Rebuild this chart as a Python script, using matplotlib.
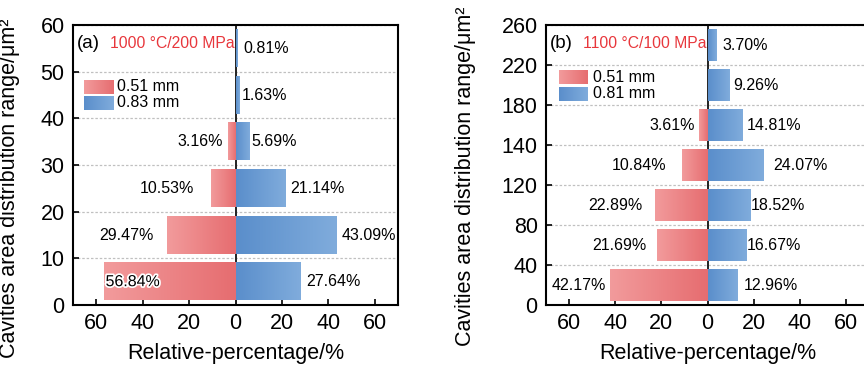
import numpy as np
import matplotlib
matplotlib.use('Agg')
import matplotlib.pyplot as plt
import matplotlib.patheffects as pe
from matplotlib.colors import LinearSegmentedColormap

plt.rcParams['font.family'] = ['Liberation Sans', 'DejaVu Sans']

# relative percentage per cavity-area bin, (a) 1000 C / 200 MPa
a_edges = [0, 10, 20, 30, 40, 50, 60]
a_thin = [56.84, 29.47, 10.53, 3.16, 0, 0]
a_thick = [27.64, 43.09, 21.14, 5.69, 1.63, 0.81]
a_names = ['0.51 mm', '0.83 mm']

# (b) 1100 C / 100 MPa
b_edges = [0, 40, 80, 120, 140, 180, 220, 260]
b_thin = [42.17, 21.69, 22.89, 10.84, 3.61, 0, 0]
b_thick = [12.96, 16.67, 18.52, 24.07, 14.81, 9.26, 3.70]
b_names = ['0.51 mm', '0.81 mm']

xticks = [-60, -40, -20, 0, 20, 40, 60]

# pixel gaps between bar end and its label
a_gap_thin = [0, 13, 17, 5]
a_gap_thick = [7, 6, 6, 3, 2, 6]
b_gap_thin = [4, 11, 12, 16, 4]
b_gap_thick = [6, 1, 1, 10, 5, 4, 6]

RED_ZERO, RED_FAR = '#e66d70', '#f29b9c'
BLUE_ZERO, BLUE_FAR = '#5a8ecb', '#80acdc'


def shade(ax, bars, c_zero, c_far):
    cmap = LinearSegmentedColormap.from_list('g', [c_zero, c_far])
    grad = np.linspace(0, 1, 256).reshape(1, -1)
    for b in bars:
        w = b.get_width()
        if w == 0:
            continue
        x0, y0, h = b.get_x(), b.get_y(), b.get_height()
        ax.imshow(grad, extent=[x0, x0 + w, y0, y0 + h], cmap=cmap,
                  aspect='auto', interpolation='bilinear', zorder=2)


def legend_patch(ax, box, c_left, c_right):
    ins = ax.inset_axes(box)
    cmap = LinearSegmentedColormap.from_list('g', [c_left, c_right])
    ins.imshow(np.linspace(0, 1, 256).reshape(1, -1), cmap=cmap,
               aspect='auto', interpolation='bilinear')
    ins.axis('off')


def draw_panel(ax, edges, thin, thick, tag, cond, names,
               gap_thin, gap_thick, leg_x, leg_y):
    n = len(thick)
    pos = np.arange(n) + 0.5

    neg = [-v for v in thin]
    bars_l = ax.barh(pos, neg, height=0.8, color='none', zorder=2)
    bars_r = ax.barh(pos, thick, height=0.8, color='none', zorder=2)
    shade(ax, bars_l, RED_ZERO, RED_FAR)
    shade(ax, bars_r, BLUE_ZERO, BLUE_FAR)

    ax.axvline(0, color='#222222', lw=1.4, zorder=1.5)
    ax.set_yticks(np.arange(n + 1))
    ax.set_yticklabels([str(e) for e in edges])
    ax.grid(axis='y', linestyle=(0, (2, 1.5)), color='#c0c0c0', lw=0.9, zorder=0)
    ax.set_axisbelow(True)

    ax.set_xlim(-70, 70)
    ax.set_ylim(0, n)
    ax.set_xticks(xticks)
    ax.set_xticklabels([str(abs(t)) for t in xticks])
    ax.tick_params(direction='in', length=4, width=1.2, labelsize=15.5, pad=6)
    for s in ax.spines.values():
        s.set_linewidth(1.5)

    # value labels
    for i, v in enumerate(thin):
        if v == 0:
            continue
        if i == 0 and v > 50:
            t = ax.annotate(f'{v:.2f}%', (-v, pos[i]), xytext=(2, 0),
                            textcoords='offset pixels', ha='left', va='center',
                            fontsize=11.5, zorder=5)
            t.set_path_effects([pe.withStroke(linewidth=2.5, foreground='white')])
        else:
            ax.annotate(f'{v:.2f}%', (-v, pos[i]), xytext=(-gap_thin[i], 0),
                        textcoords='offset pixels', ha='right', va='center',
                        fontsize=11.5, zorder=5)
    for i, v in enumerate(thick):
        ax.annotate(f'{v:.2f}%', (v, pos[i]), xytext=(gap_thick[i], 0),
                    textcoords='offset pixels', ha='left', va='center',
                    fontsize=11.5, zorder=5)

    ax.text(0.012, 0.935, tag, transform=ax.transAxes, fontsize=13.5,
            va='center', ha='left')
    ax.text(0.114, 0.935, cond, transform=ax.transAxes, fontsize=11.3,
            color='#e8373c', va='center', ha='left')

    # gradient legend
    legend_patch(ax, [leg_x[0], leg_y[0], leg_x[1] - leg_x[0], 0.05], RED_FAR, RED_ZERO)
    legend_patch(ax, [leg_x[0], leg_y[1], leg_x[1] - leg_x[0], 0.05], BLUE_ZERO, BLUE_FAR)
    ax.text(leg_x[2], leg_y[0] + 0.025, names[0], transform=ax.transAxes,
            fontsize=11.5, va='center')
    ax.text(leg_x[2], leg_y[1] + 0.025, names[1], transform=ax.transAxes,
            fontsize=11.5, va='center')

    ax.set_xlabel('Relative-percentage/%', fontsize=15.5, labelpad=6)
    ax.set_ylabel('Cavities area distribution range/μm²', fontsize=15.5)


fig = plt.figure(figsize=(8.64, 3.67), dpi=100)
ax_a = fig.add_axes([73 / 864, 62 / 367, 325 / 864, 280 / 367])
ax_b = fig.add_axes([546 / 864, 62 / 367, 323 / 864, 280 / 367])

draw_panel(ax_a, a_edges, a_thin, a_thick, '(a)', '1000 °C/200 MPa', a_names,
           a_gap_thin, a_gap_thick, (0.034, 0.126, 0.135), (0.754, 0.697))
draw_panel(ax_b, b_edges, b_thin, b_thick, '(b)', '1100 °C/100 MPa', b_names,
           b_gap_thin, b_gap_thick, (0.040, 0.127, 0.146), (0.789, 0.729))

ax_a.yaxis.set_label_coords(-0.163, 0.418)
ax_b.yaxis.set_label_coords(-0.217, 0.459)

fig.savefig('out.png', dpi=100)
